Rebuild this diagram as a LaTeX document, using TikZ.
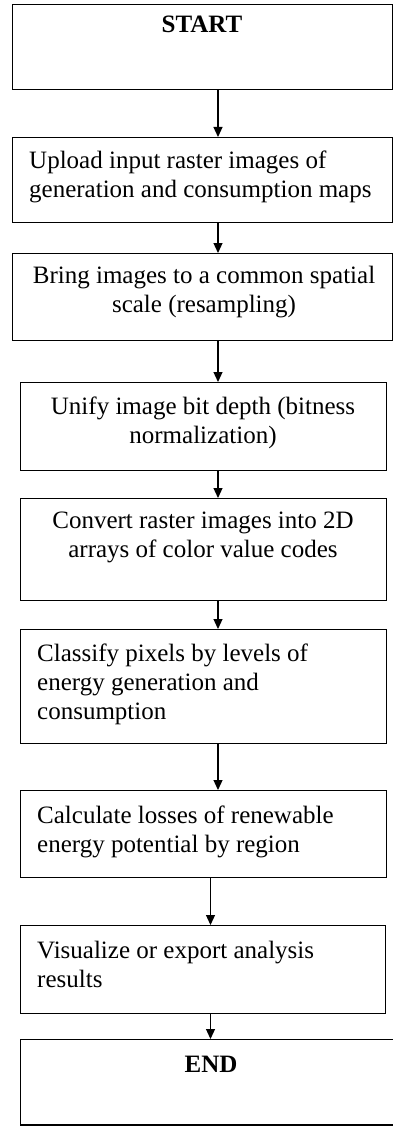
\documentclass[tikz,border=0pt]{standalone}
\usepackage{fontspec}
\setmainfont{Liberation Serif}
\usetikzlibrary{arrows.meta}
\begin{document}
\begin{tikzpicture}[x=1pt,y=-1pt,
  box/.style={draw=black,line width=1.2pt,rectangle,inner sep=0pt,anchor=north west,fill=white},
  lbl/.style={inner sep=0pt,font=\fontsize{25}{29}\selectfont},
  lblc/.style={lbl,align=center,anchor=north},
  lbll/.style={lbl,align=left,anchor=north west},
  arr/.style={line width=1.2pt,-{Triangle[width=9pt,length=10pt]}}]
\clip (0,0) rectangle (393,1126);
\fill[white] (0,0) rectangle (393,1126);
% boxes
\node[box,minimum width=380pt,minimum height=85pt] (b1) at (12,4) {};
\node[box,minimum width=380pt,minimum height=85pt] (b2) at (12,137) {};
\node[box,minimum width=380pt,minimum height=87pt] (b3) at (12,253) {};
\node[box,minimum width=366pt,minimum height=88pt] (b4) at (20,382) {};
\node[box,minimum width=366pt,minimum height=102pt] (b5) at (20,498) {};
\node[box,minimum width=366pt,minimum height=114pt] (b6) at (20,629) {};
\node[box,minimum width=366pt,minimum height=87pt] (b7) at (20,790) {};
\node[box,minimum width=365pt,minimum height=88pt] (b8) at (20,925) {};
\node[box,minimum width=390pt,minimum height=85.3pt] (b9) at (20,1039) {};
% labels
\node[lbl,anchor=base,font=\fontsize{25}{29}\selectfont\bfseries] (t1) at (202,33) {START};
\node[lbll] (t2) at (29,147.7) {\strut Upload input raster images of\\generation and consumption maps};
\node[lblc] (t3) at (204,262.7) {\strut Bring images to a common spatial\\scale (resampling)};
\node[lblc] (t4) at (203,393.7) {\strut Unify image bit depth (bitness\\normalization)};
\node[lblc] (t5) at (203,507.7) {\strut Convert raster images into 2D\\arrays of color value codes};
\node[lbll] (t6) at (37,640.7) {\strut Classify pixels by levels of\\energy generation and\\consumption};
\node[lbll] (t7) at (37,802.7) {\strut Calculate losses of renewable\\energy potential by region};
\node[lbll] (t8) at (37,937.7) {\strut Visualize or export analysis\\results};
\node[lbl,anchor=base,font=\fontsize{25}{29}\selectfont\bfseries] (t9) at (211,1072) {END};
% connectors
\coordinate (ax) at (218,0);
\coordinate (bx) at (210.5,0);
\draw[arr] (b1.south -| ax) -- (b2.north -| ax);
\draw[arr] (b2.south -| ax) -- (b3.north -| ax);
\draw[arr] (b3.south -| ax) -- (b4.north -| ax);
\draw[arr] (b4.south -| ax) -- (b5.north -| ax);
\draw[arr] (b5.south -| ax) -- (b6.north -| ax);
\draw[arr] (b6.south -| ax) -- (b7.north -| ax);
\draw[arr] (b7.south -| bx) -- (b8.north -| bx);
\draw[arr] (b8.south -| bx) -- (b9.north -| bx);
\end{tikzpicture}
\end{document}
